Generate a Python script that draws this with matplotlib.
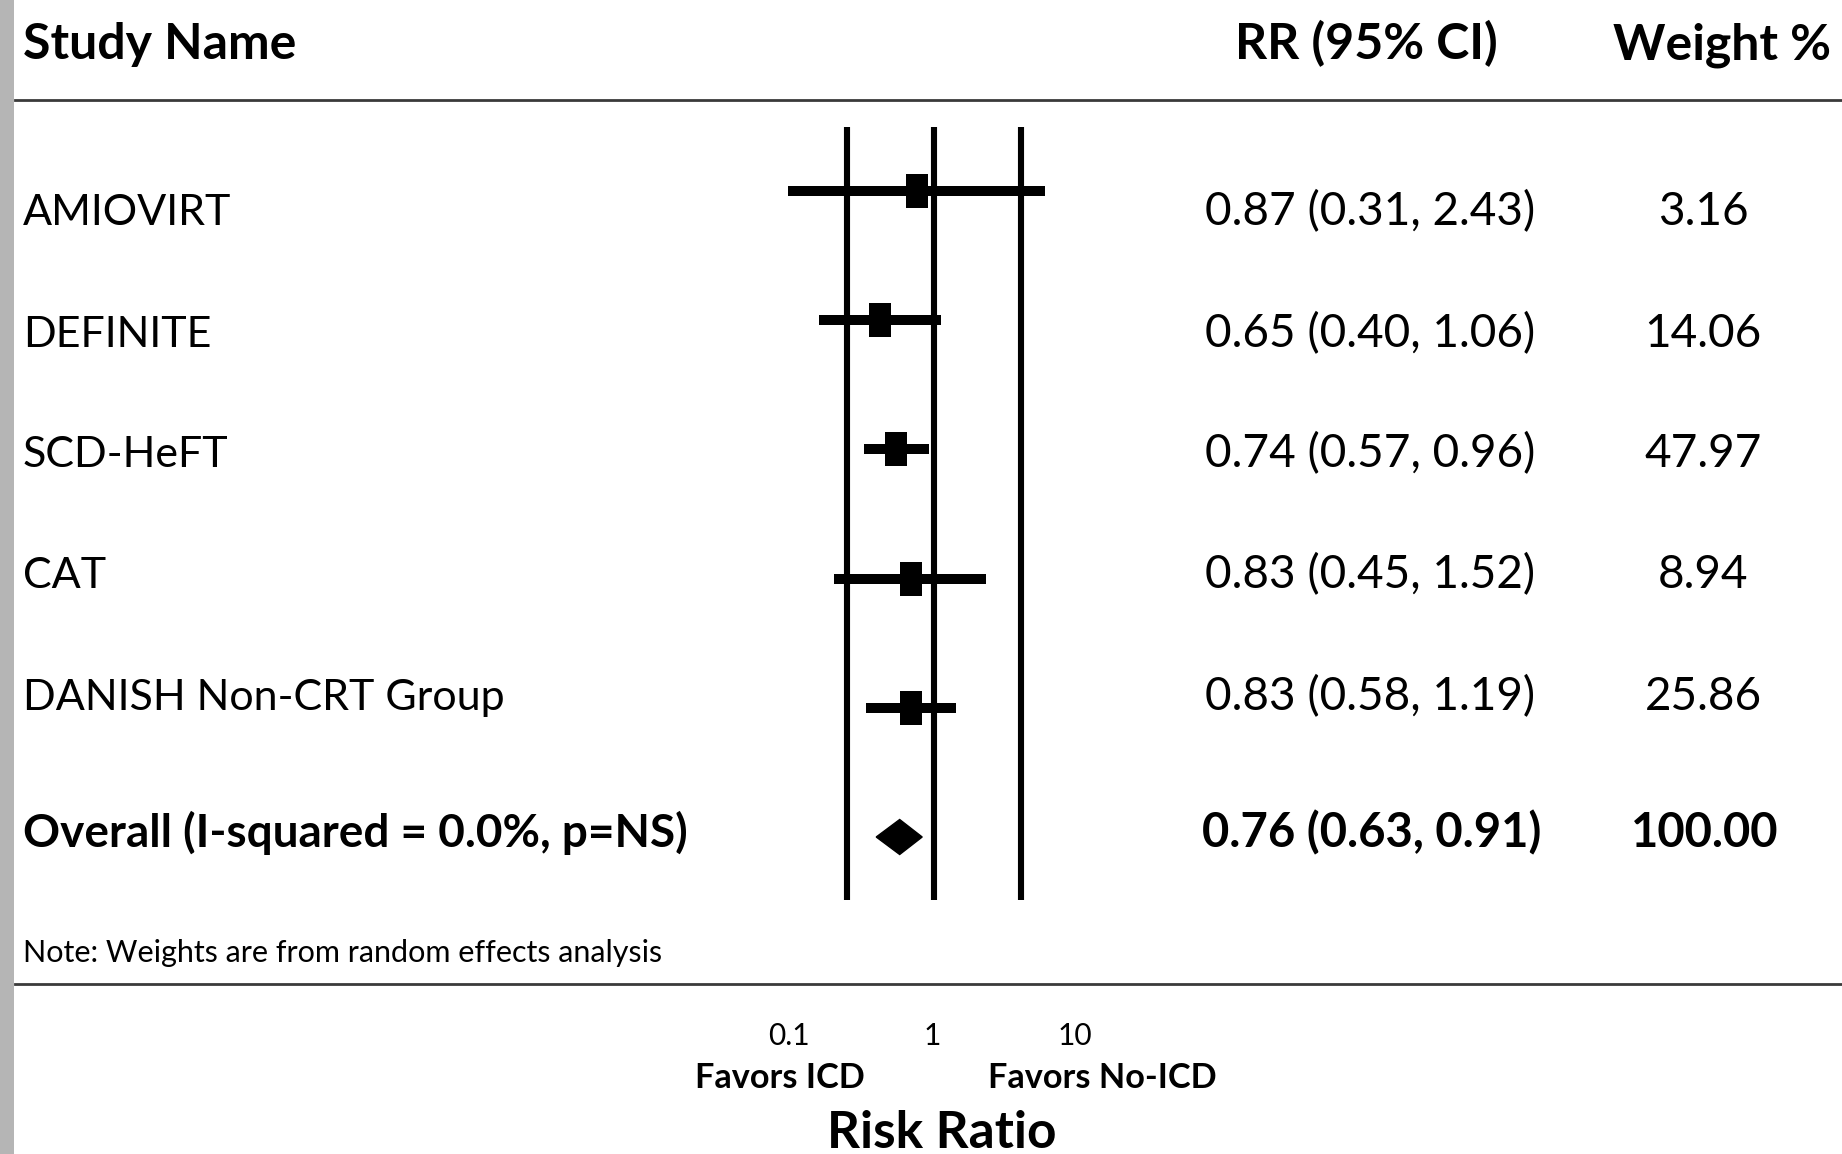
import numpy as np
import matplotlib
matplotlib.use("Agg")
import matplotlib.pyplot as plt
from matplotlib.patches import Rectangle, Polygon
from matplotlib.lines import Line2D
from matplotlib.path import Path
import matplotlib.transforms as mtransforms

# ---------------- data ----------------
studies = ["AMIOVIRT", "DEFINITE", "SCD-HeFT", "CAT", "DANISH Non-CRT Group"]
rr = [0.87, 0.65, 0.74, 0.83, 0.83]
ci_low = [0.31, 0.40, 0.57, 0.45, 0.58]
ci_high = [2.43, 1.06, 0.96, 1.52, 1.19]
weights = [3.16, 14.06, 47.97, 8.94, 25.86]

overall_label = "Overall (I-squared = 0.0%, p=NS)"
overall_rr = 0.76
overall_low = 0.63
overall_high = 0.91
overall_weight = 100.00

ref_lines = [0.5, 1, 2]
axis_ticks = [0.1, 1, 10]
axis_ticklabels = ["0.1", "1", "10"]

# ---------------- figure ----------------
W, H = 1842, 1154
DPI = 100
FONT = "Lato"
plt.rcParams["font.family"] = [FONT, "DejaVu Sans"]

fig = plt.figure(figsize=(W / DPI, H / DPI), dpi=DPI)
fig.patch.set_facecolor("white")


def fx(x):
    return x / W


def fy(y):
    return 1 - y / H


# grey strip on the left
fig.patches.append(Rectangle((0, 0), fx(14), 1, transform=fig.transFigure,
                             facecolor="#b5b5b5", edgecolor="none", zorder=0))

# ---------------- forest axes ----------------
one_px = 934.0          # pixel x of RR = 1
dec_px = 288.0          # pixels per decade
ax_l, ax_r = 650.0, 1180.0
ax_t, ax_b = 100.0, 984.0
row0_px = 191.0
row_step = 129.2

ax = fig.add_axes([fx(ax_l), fy(ax_b), fx(ax_r - ax_l), (ax_b - ax_t) / H])
ax.set_xscale("log")
ax.set_xlim(10 ** ((ax_l - one_px) / dec_px), 10 ** ((ax_r - one_px) / dec_px))
ax.set_ylim((ax_b - row0_px) / row_step, (ax_t - row0_px) / row_step)
ax.axis("off")

n = len(studies)
ys = np.arange(n)
y_over = n

# vertical reference lines
vl_top = (127 - row0_px) / row_step
vl_bot = (900 - row0_px) / row_step
for xv in ref_lines:
    ax.plot([xv, xv], [vl_top, vl_bot], color="black", lw=4.4,
            solid_capstyle="butt", zorder=2)

# confidence intervals and point estimates
for y, r, lo, hi in zip(ys, rr, ci_low, ci_high):
    ax.plot([lo, hi], [y, y], color="black", lw=7.2,
            solid_capstyle="butt", zorder=3)
rect_marker = Path([(-0.31, -0.5), (0.31, -0.5), (0.31, 0.5), (-0.31, 0.5),
                    (-0.31, -0.5)], closed=True)
ax.plot(rr, ys, linestyle="none", marker=rect_marker, markersize=24.5,
        markeredgewidth=0, color="black", zorder=4)

# overall diamond
dh = 17.5 / row_step
diamond = Polygon([(overall_low, y_over), (overall_rr, y_over - dh),
                   (overall_high, y_over), (overall_rr, y_over + dh)],
                  closed=True, facecolor="black", edgecolor="black", zorder=4)
ax.add_patch(diamond)

# ---------------- text table ----------------
LBL_FS = 31
NUM_FS = 33
HEAD_FS = 36

fig.text(fx(23), fy(59), "Study Name", fontsize=HEAD_FS, fontweight="bold",
         ha="left", va="baseline")
fig.text(fx(1366), fy(59), "RR (95% CI)", fontsize=HEAD_FS, fontweight="bold",
         ha="center", va="baseline")
fig.text(fx(1722), fy(59), "Weight %", fontsize=HEAD_FS, fontweight="bold",
         ha="center", va="baseline")

text_base = [225, 347, 467, 588, 710]
over_base = 847

for yb, name, r, lo, hi, w in zip(text_base, studies, rr, ci_low, ci_high,
                                  weights):
    fig.text(fx(23), fy(yb), name, fontsize=LBL_FS, ha="left", va="baseline")
    fig.text(fx(1370), fy(yb), f"{r:.2f} ({lo:.2f}, {hi:.2f})",
             fontsize=NUM_FS, ha="center", va="baseline")
    fig.text(fx(1703), fy(yb), f"{w:.2f}", fontsize=NUM_FS, ha="center",
             va="baseline")

fig.text(fx(23), fy(over_base), overall_label, fontsize=33,
         fontweight="bold", ha="left", va="baseline")
fig.text(fx(1372), fy(over_base),
         f"{overall_rr:.2f} ({overall_low:.2f}, {overall_high:.2f})",
         fontsize=34, fontweight="bold", ha="center", va="baseline")
fig.text(fx(1705), fy(over_base), f"{overall_weight:.2f}", fontsize=34,
         fontweight="bold", ha="center", va="baseline")

# header / footer rules
for ypx in (100, 984):
    fig.add_artist(Line2D([fx(15), 1.0], [fy(ypx), fy(ypx)],
                          transform=fig.transFigure, color="#3a3a3a", lw=2.0))

fig.text(fx(23), fy(953), "Note: Weights are from random effects analysis",
         fontsize=22, ha="left", va="center")

# ---------------- bottom scale ----------------
t_one = 932.0
t_dec = 143.0
tax = fig.add_axes([fx(ax_l), fy(1051), fx(ax_r - ax_l), 1 / H])
tax.set_xscale("log")
tax.set_xlim(10 ** ((ax_l - t_one) / t_dec), 10 ** ((ax_r - t_one) / t_dec))
tax.set_yticks([])
for s in tax.spines.values():
    s.set_visible(False)
tax.xaxis.set_ticks_position("top")
tax.set_xticks(axis_ticks)
tax.set_xticklabels(axis_ticklabels)
tax.xaxis.set_minor_locator(matplotlib.ticker.NullLocator())
tax.tick_params(axis="x", length=0, pad=0, labelsize=21.5)
for lab in tax.get_xticklabels():
    lab.set_verticalalignment("bottom")

fig.text(fx(780), fy(1078), "Favors ICD", fontsize=24.7, fontweight="bold",
         ha="center", va="center")
fig.text(fx(1102), fy(1078), "Favors No-ICD", fontsize=24.7, fontweight="bold",
         ha="center", va="center")
fig.text(fx(942), fy(1134), "Risk Ratio", fontsize=37, fontweight="bold",
         ha="center", va="center")

fig.savefig("out.png", dpi=DPI, facecolor="white")
